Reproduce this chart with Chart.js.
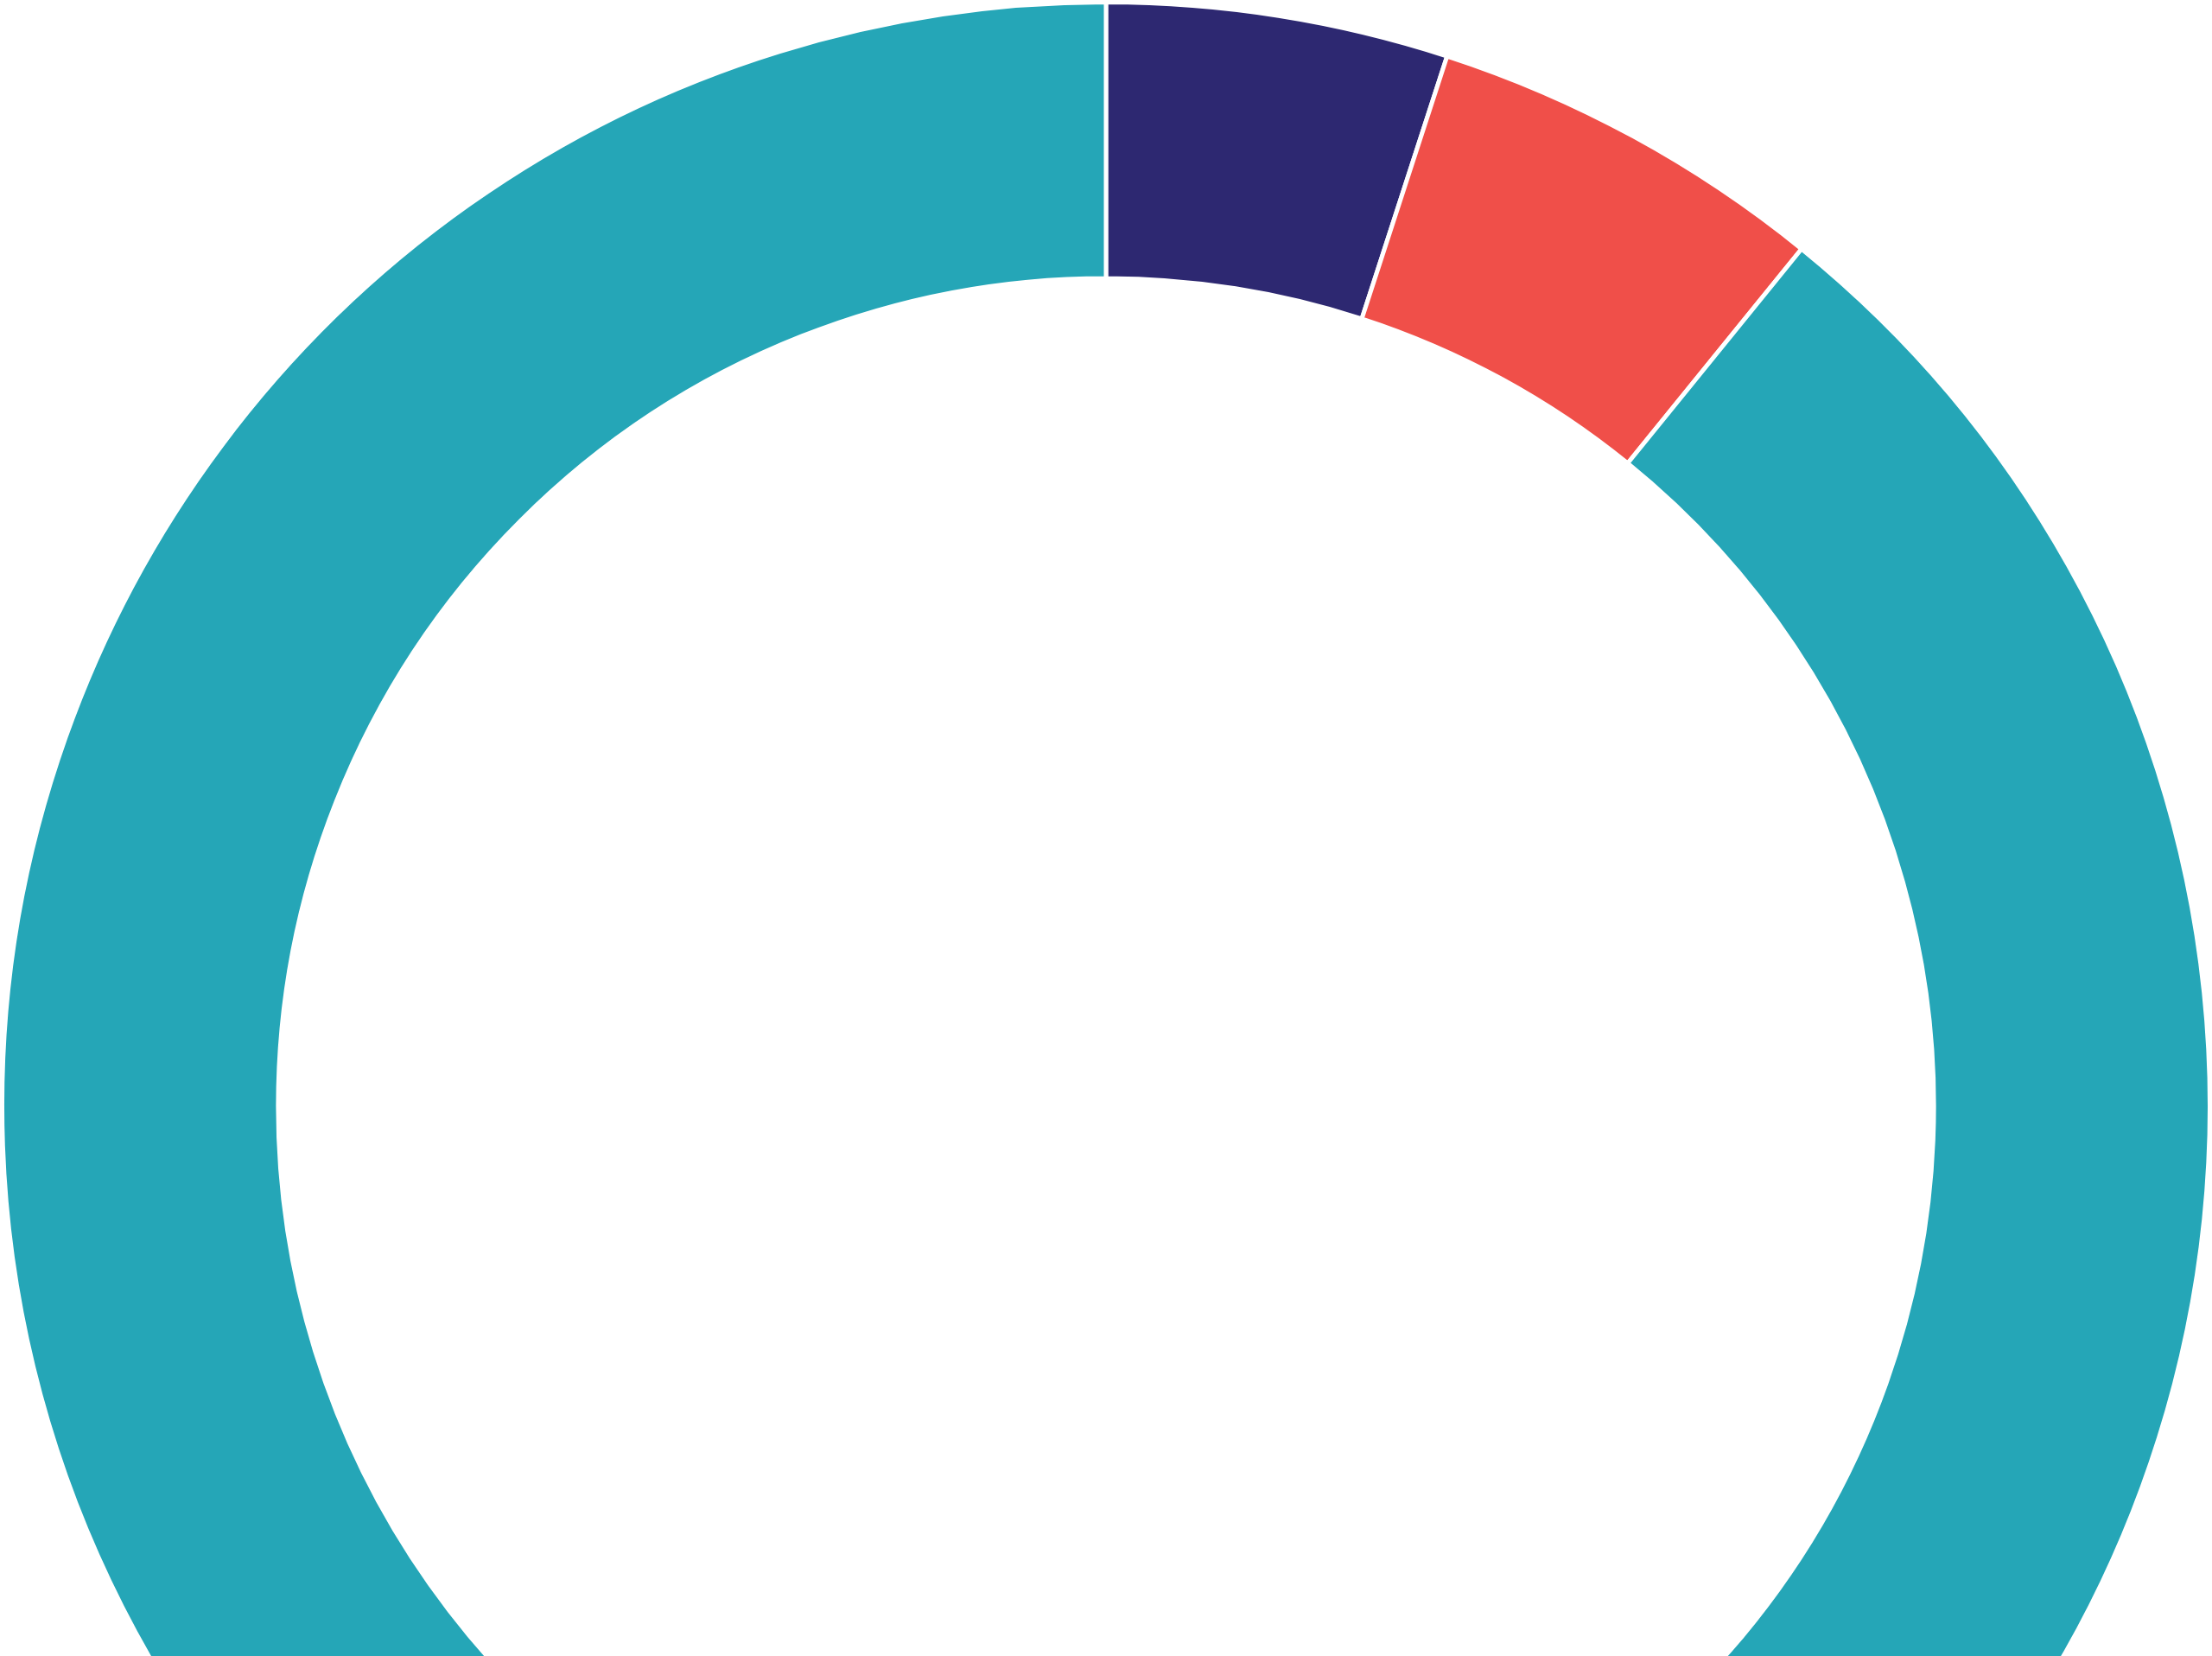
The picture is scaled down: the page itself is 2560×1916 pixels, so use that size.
<!DOCTYPE html>
<html>
<head>
<meta charset="utf-8">
<title>Doughnut</title>
<script src="https://cdn.jsdelivr.net/npm/chart.js@4.4.1/dist/chart.umd.min.js"></script>
<style>
  html, body { margin: 0; padding: 0; background: #ffffff; overflow: hidden; }
  #wrap { width: 2560px; height: 1916px; overflow: hidden; }
  canvas { display: block; }
</style>
</head>
<body>
<div id="wrap">
  <canvas id="share_chart" width="2560" height="2560" style="width:2560px;height:2560px"></canvas>
</div>
<script>
// slices, clockwise from 12 o'clock
var labels = ["Navy", "Red", "Teal"];
var values = [5.0, 5.85, 89.15];
var colors = ["#2d2871", "#f04f49", "#25a6b7"];

function create_doughnut(chart_id) {
  let chart = new Chart(document.getElementById(chart_id), {
    type: 'doughnut',
    data: {
      labels: labels,
      datasets: [{
        data: values,
        backgroundColor: colors,
        borderColor: "#ffffff",
        borderWidth: 5,
        hoverOffset: 0
      }]
    },
    options: {
      responsive: false,
      maintainAspectRatio: false,
      devicePixelRatio: 1,
      animation: false,
      cutout: '75%',
      layout: { padding: 0 },
      plugins: {
        legend: { display: false },
        tooltip: { enabled: false }
      }
    }
  });
  return chart;
}

create_doughnut('share_chart');
</script>
</body>
</html>
